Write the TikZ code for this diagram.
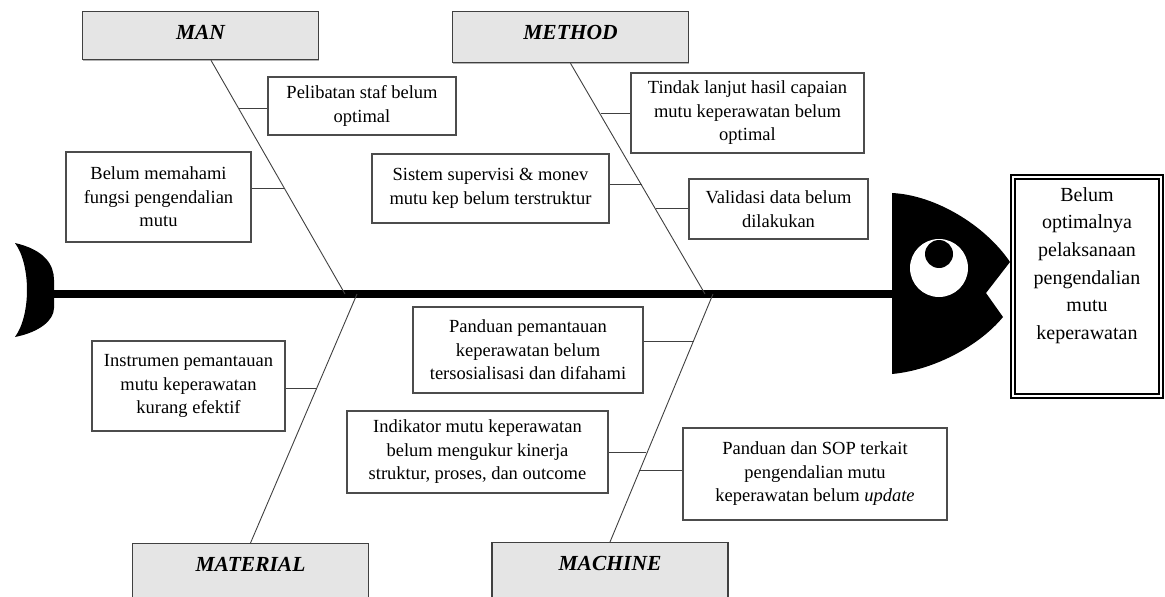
\documentclass[tikz,border=0pt]{standalone}
\usepackage{fontspec}
\setmainfont{Liberation Serif}
\usetikzlibrary{positioning,shadows}

\begin{document}
\begin{tikzpicture}[x=1pt,y=-1pt,
    causebox/.style={draw=black!70, line width=1.1pt, fill=white, align=center,
        text=black, inner sep=2pt, font=\fontsize{18.5}{23.5}\selectfont},
    catbox/.style={draw=black!75, line width=1.3pt, fill=black!10, minimum width=236pt,
        inner sep=0pt, text height=27.5pt, text=black,
        font=\fontsize{21.5}{24}\selectfont\bfseries\itshape,
        drop shadow={shadow xshift=0.8pt, shadow yshift=-1.2pt, fill=black!50, opacity=0.6}},
    headbox/.style={draw=black, line width=1.6pt, double, double distance=2.5pt,
        align=center, text=black, inner xsep=4pt, inner ysep=7pt,
        minimum width=148pt, minimum height=219pt, text depth=46pt,
        font=\fontsize{20}{27.6}\selectfont},
    bone/.style={draw=black!75, line width=0.9pt},
    twig/.style={draw=black!75, line width=0.9pt}]
    \useasboundingbox (0,0) rectangle (1165,597);
    \clip (0,0) rectangle (1165,597);
    %
    % spine, tail and head
    \coordinate (tail) at (53,294);
    \coordinate (head) at (892,294);
    \draw[line width=8pt] (tail) -- (head);
    \fill (15,243) .. controls (45,250) and (54,265) .. (54,280) -- (54,308)
        .. controls (54,320) and (40,332) .. (15,337)
        .. controls (31,315) and (31,265) .. (15,243) -- cycle;
    \fill (892,193) .. controls (935,195) and (985,225) .. (1010,262)
        -- (986,293) -- (1003,317)
        .. controls (980,345) and (935,370) .. (892,374) -- cycle;
    \fill[white] (939,268) circle (29);
    \fill (939,254) circle (14);
    \node[headbox, anchor=north] (effect) at (1087,176)
        {Belum\\optimalnya\\pelaksanaan\\pengendalian\\mutu\\keperawatan};
    %
    % categories
    \node[catbox, text depth=20.5pt, anchor=north] (man)      at (200.5,11)  {MAN};
    \node[catbox, text depth=23.5pt, anchor=north] (method)   at (570.5,11)  {METHOD};
    \node[catbox, text depth=40pt, anchor=north]   (material) at (250.5,543) {MATERIAL};
    \node[catbox, text depth=40pt, anchor=north]   (machine)  at (610,542)   {MACHINE};
    %
    \coordinate (s-man)      at (345,294);
    \coordinate (s-method)   at (705,294);
    \coordinate (s-material) at (357,294);
    \coordinate (s-machine)  at (713,294);
    \draw[bone] ([xshift=10.5pt]man.south) -- (s-man);
    \draw[bone] (method.south)  -- (s-method);
    \draw[bone] (material.north) -- (s-material);
    \draw[bone] (machine.north)  -- (s-machine);
    %
    % causes
    \node[causebox, minimum width=188pt, minimum height=58pt] (staf) at (362,106)
        {Pelibatan staf belum\\optimal};
    \node[causebox, minimum width=185pt, minimum height=90pt] (fungsi) at (158.5,197)
        {Belum memahami\\fungsi pengendalian\\mutu};
    \node[causebox, minimum width=233pt, minimum height=80pt] (tindak) at (747.5,113)
        {Tindak lanjut hasil capaian\\mutu keperawatan belum\\optimal};
    \node[causebox, minimum width=237pt, minimum height=69pt] (supervisi) at (490.5,188.5)
        {Sistem supervisi \& monev\\mutu kep belum terstruktur};
    \node[causebox, minimum width=179pt, minimum height=60pt] (validasi) at (778.5,209)
        {Validasi data belum\\dilakukan};
    \node[causebox, minimum width=193pt, minimum height=90pt] (instrumen) at (188.5,386)
        {Instrumen pemantauan\\mutu keperawatan\\kurang efektif};
    \node[causebox, minimum width=230pt, minimum height=86pt] (panduan) at (528,350)
        {Panduan pemantauan\\keperawatan belum\\tersosialisasi dan difahami};
    \node[causebox, minimum width=261pt, minimum height=82pt] (indikator) at (477.5,452)
        {Indikator mutu keperawatan\\belum mengukur kinerja\\struktur, proses, dan outcome};
    \node[causebox, minimum width=264pt, minimum height=92pt] (sop) at (815,474)
        {Panduan dan SOP terkait\\pengendalian mutu\\keperawatan belum \textit{update}};
    %
    \coordinate (t-staf)      at (239.2,108);
    \coordinate (t-fungsi)    at (285.2,188);
    \coordinate (t-tindak)    at (600.7,113);
    \coordinate (t-supervisi) at (642.1,184);
    \coordinate (t-validasi)  at (656.1,208);
    \coordinate (t-instrumen) at (317.1,388);
    \coordinate (t-panduan)   at (693.8,341);
    \coordinate (t-indikator) at (646.4,452);
    \coordinate (t-sop)       at (638.7,470);
    \draw[twig] (t-staf)      -- (t-staf -| staf.west);
    \draw[twig] (t-fungsi)    -- (t-fungsi -| fungsi.east);
    \draw[twig] (t-tindak)    -- (t-tindak -| tindak.west);
    \draw[twig] (t-supervisi) -- (t-supervisi -| supervisi.east);
    \draw[twig] (t-validasi)  -- (t-validasi -| validasi.west);
    \draw[twig] (t-instrumen) -- (t-instrumen -| instrumen.east);
    \draw[twig] (t-panduan)   -- (t-panduan -| panduan.east);
    \draw[twig] (t-indikator) -- (t-indikator -| indikator.east);
    \draw[twig] (t-sop)       -- (t-sop -| sop.west);
\end{tikzpicture}
\end{document}
